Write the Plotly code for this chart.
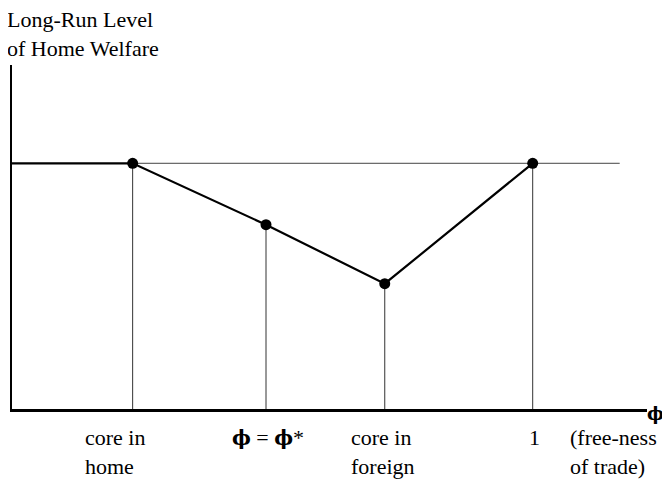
import plotly.graph_objects as go

# Data
PHI = "<span style='font-family:DejaVu Serif;font-size:20px'><b>ϕ</b></span>"
PHI_END = "<span style='font-family:DejaVu Serif;font-size:18px'><b>ϕ</b></span>"
x_labels = ["core in<br>home", PHI + " = " + PHI + "*", "core in<br>foreign", "1"]
x_pos = [0.19, 0.40, 0.587, 0.82]          # positions of the four regimes on the phi axis
welfare = [1.0, 0.75, 0.51, 1.0]           # long-run home welfare at each regime
ref_level = 1.0                            # reference welfare level (horizontal line)
ref_line_end = 0.957
y_title = "Long-Run Level<br>of Home Welfare"
x_title = PHI_END
x_note = "(free-ness<br>of trade)"

FONT = "Liberation Serif, Times New Roman, serif"

fig = go.Figure()

# thin reference line
fig.add_trace(go.Scatter(x=[x_pos[0], ref_line_end], y=[ref_level, ref_level], mode="lines",
                         line=dict(color="#444", width=1), hoverinfo="skip"))

# vertical drop lines
dx, dy = [], []
for xp, w in zip(x_pos, welfare):
    dx += [xp, xp, None]
    dy += [0, w, None]
fig.add_trace(go.Scatter(x=dx, y=dy, mode="lines", line=dict(color="#333", width=1), hoverinfo="skip"))

# welfare path
fig.add_trace(go.Scatter(x=[0] + x_pos, y=[welfare[0]] + welfare, mode="lines",
                         line=dict(color="black", width=2.2), hoverinfo="skip", cliponaxis=False))
fig.add_trace(go.Scatter(x=x_pos, y=welfare, mode="markers",
                         marker=dict(color="black", size=11), hoverinfo="skip", cliponaxis=False))

annotations = []
shifts = [-18, 2, -2, 2]
for lab, xp, sh in zip(x_labels, x_pos, shifts):
    annotations.append(dict(x=xp, y=0, xref="x", yref="paper", text=lab, showarrow=False,
                            xanchor="center", yanchor="top", yshift=-14, xshift=sh, align="left",
                            font=dict(family=FONT, size=22, color="black")))
annotations.append(dict(x=1, y=0, xref="paper", yref="paper", text=x_note, showarrow=False,
                        xanchor="left", yanchor="top", yshift=-14, xshift=-79, align="left",
                        font=dict(family=FONT, size=22, color="black")))
annotations.append(dict(x=1, y=0, xref="paper", yref="paper", text=x_title, showarrow=False,
                        xanchor="left", yanchor="middle", yshift=-4, xshift=-1, borderpad=0,
                        font=dict(family=FONT, size=18, color="black")))
annotations.append(dict(x=0, y=1, xref="paper", yref="paper", text=y_title, showarrow=False,
                        xanchor="left", yanchor="bottom", yshift=2, xshift=-7, align="left",
                        font=dict(family=FONT, size=22, color="black")))

fig.update_layout(
    width=662, height=472,
    margin=dict(l=4, t=57, r=23, b=71),
    paper_bgcolor="white", plot_bgcolor="white",
    showlegend=False,
    annotations=annotations,
    xaxis=dict(range=[0, 1], showline=True, linewidth=3, linecolor="black", showgrid=False,
               zeroline=False, showticklabels=False, ticks=""),
    yaxis=dict(range=[0, 1.4], showline=True, linewidth=2, linecolor="black", showgrid=False,
               zeroline=False, showticklabels=False, ticks=""),
)

fig.write_html("out.html")
